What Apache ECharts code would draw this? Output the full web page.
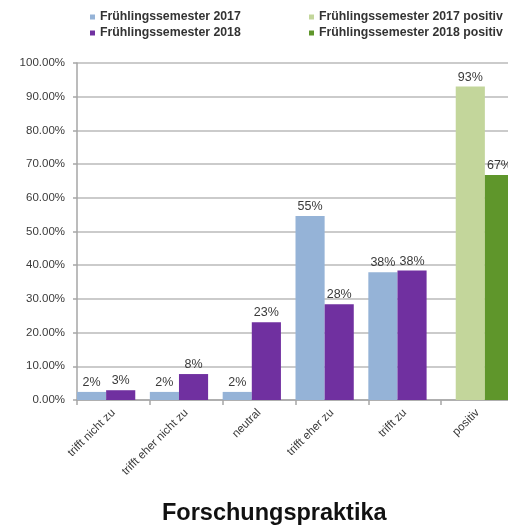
<!DOCTYPE html>
<html>
<head>
<meta charset="utf-8">
<script src="https://cdn.jsdelivr.net/npm/echarts@6/dist/echarts.min.js"></script>
<style>
    html, body { margin: 0; padding: 0; background: #fff; overflow: hidden; }
    /* etwas breiter als das Fenster: die Grafik läuft rechts über den Rand hinaus */
    #chart { width: 514px; height: 529px; }
</style>
</head>
<body>
<div id="chart"></div>
<script>
// Daten
const categories = ['trifft nicht zu', 'trifft eher nicht zu', 'neutral', 'trifft eher zu', 'trifft zu', 'positiv']
const fs2017 = [2.4, 2.4, 2.4, 54.6, 37.9, '-']
const fs2018 = [2.9, 7.7, 23.1, 28.4, 38.4, '-']
const fs2017Positiv = ['-', '-', '-', '-', '-', 93.0]
const fs2018Positiv = ['-', '-', '-', '-', '-', 66.8]
const yTicks = [0, 10, 20, 30, 40, 50, 60, 70, 80, 90, 100]

const font = 'Arial, "Liberation Sans", sans-serif'
const textColor = '#3a3a3a'

const barLabel = {
    show: true,
    position: 'top',
    distance: 3,
    fontFamily: font,
    fontSize: 12.5,
    color: textColor,
    formatter: p => Math.round(p.value) + '%'
}

// Reihenfolge blau, hellgrün, lila, dunkelgrün -> mit barGap -50% liegen
// blau/lila links und die grünen Balken rechts in der Kategorie
const makeSeries = (name, data, color) => ({
    name,
    type: 'bar',
    data,
    barGap: '-50%',
    barCategoryGap: '0%',
    itemStyle: { color },
    label: barLabel
})

const legendText = { fontFamily: font, fontSize: 12.3, fontWeight: 'bold', color: '#333', lineHeight: 12 }

const chart = echarts.init(document.getElementById('chart'))
chart.setOption({
    animation: false,
    title: {
        text: 'Forschungspraktika',
        left: 157,
        top: 497,
        textStyle: { fontFamily: font, fontSize: 23.5, fontWeight: 'bold', color: '#111' }
    },
    legend: [{
        orient: 'vertical',
        left: 90,
        top: 11,
        padding: 0,
        itemWidth: 5,
        itemHeight: 5,
        itemGap: 4,
        icon: 'rect',
        data: ['Frühlingssemester 2017', 'Frühlingssemester 2018'],
        textStyle: legendText
    }, {
        orient: 'vertical',
        left: 309,
        top: 11,
        padding: 0,
        itemWidth: 5,
        itemHeight: 5,
        itemGap: 4,
        icon: 'rect',
        data: ['Frühlingssemester 2017 positiv', 'Frühlingssemester 2018 positiv'],
        textStyle: legendText
    }],
    grid: { left: 77, right: 0, top: 63, bottom: 129 },
    xAxis: {
        type: 'category',
        data: categories,
        axisLine: { lineStyle: { color: '#a6a6a6', width: 1.5 } },
        axisTick: { show: true, length: 5, lineStyle: { color: '#a6a6a6', width: 1.5 } },
        axisLabel: {
            rotate: 45,
            margin: 11,
            interval: 0,
            fontFamily: font,
            fontSize: 11.5,
            color: textColor
        }
    },
    yAxis: {
        type: 'value',
        min: yTicks[0],
        max: yTicks[yTicks.length - 1],
        interval: 10,
        axisLine: { show: true, lineStyle: { color: '#a6a6a6', width: 1.5 } },
        axisTick: { show: true, length: 4, lineStyle: { color: '#a6a6a6', width: 1.5 } },
        splitLine: { lineStyle: { color: '#bababa', width: 1.5 } },
        axisLabel: {
            margin: 12,
            fontFamily: font,
            fontSize: 11.5,
            color: textColor,
            formatter: v => v.toFixed(2) + '%'
        }
    },
    series: [
        makeSeries('Frühlingssemester 2017', fs2017, '#95b3d7'),
        makeSeries('Frühlingssemester 2017 positiv', fs2017Positiv, '#c3d69b'),
        makeSeries('Frühlingssemester 2018', fs2018, '#7030a0'),
        makeSeries('Frühlingssemester 2018 positiv', fs2018Positiv, '#5f962b')
    ]
})
</script>
</body>
</html>
